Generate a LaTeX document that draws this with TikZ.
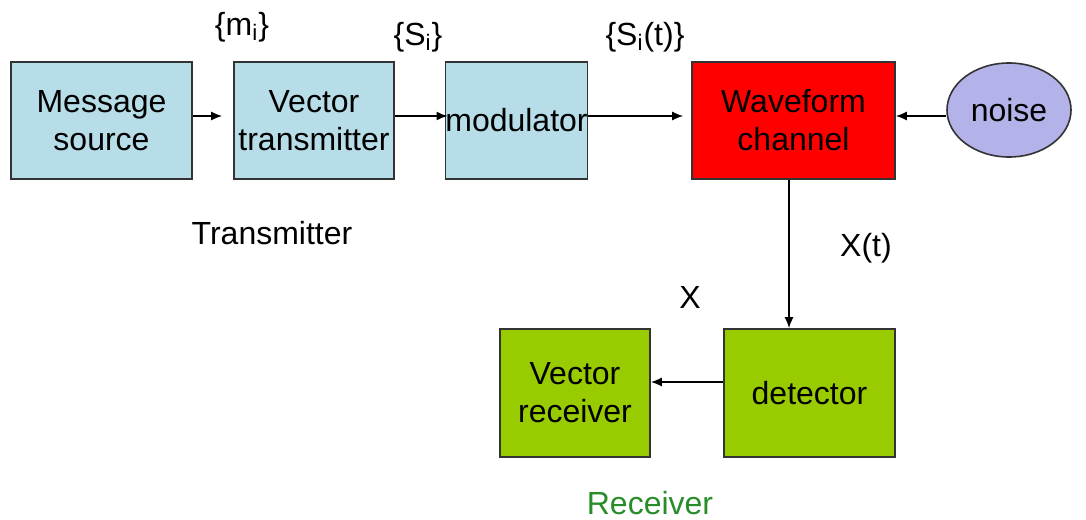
\documentclass[tikz,border=0pt]{standalone}
\usepackage{fontspec}
\setmainfont{Liberation Sans}
\usetikzlibrary{arrows.meta,shapes.geometric}
\definecolor{txblue}{HTML}{B7DEE8}
\definecolor{chred}{HTML}{FF0000}
\definecolor{rxgreen}{HTML}{99CC00}
\definecolor{noiseblue}{HTML}{B3B3EA}
\definecolor{rxlabel}{RGB}{40,140,40}
\begin{document}
\begin{tikzpicture}[
  x=0.5pt, y=-0.5pt,
  font=\fontsize{16}{19}\selectfont,
  block/.style={rectangle, draw=black!80, line width=0.8pt,
    inner sep=0pt, align=center},
  txblock/.style={block, fill=txblue},
  rxblock/.style={block, fill=rxgreen},
  link/.style={line width=0.8pt, -{Latex[length=5.5pt,width=4.5pt]}},
]
\useasboundingbox (0,0) rectangle (1086,519);

% Transmitter chain
\node[txblock, minimum width=90.5pt, minimum height=58.5pt] (msg) at (101.5,120.5) {Message\\source};
\node[txblock, minimum width=80pt, minimum height=58.5pt] (vtx) at (314,120.5) {Vector\\transmitter};
\node[txblock, minimum width=69.5pt, minimum height=58.5pt] (mod) at (516.5,120.5) {modulator};

% Channel and noise
\node[block, fill=chred, minimum width=101.5pt, minimum height=58.5pt] (wav) at (793.5,120.5) {Waveform\\channel};
\node[ellipse, draw=black!80, line width=0.8pt, fill=noiseblue,
  minimum width=62pt, minimum height=47pt, inner sep=0pt] (noi) at (1009,110) {noise};

% Receiver chain
\node[rxblock, minimum width=85.5pt, minimum height=64pt] (det) at (809.5,393) {detector};
\node[rxblock, minimum width=75pt, minimum height=64pt] (vrx) at (575,393) {Vector\\receiver};

% Signal labels
\node (lm) at (242,27) {\{m\textsubscript{i}\}};
\node (ls) at (418,37) {\{S\textsubscript{i}\}};
\node (lst) at (645,37) {\{S\textsubscript{i}(t)\}};
\node (lxt) at (866,248) {X(t)};
\node (lx) at (690,297) {X};
\node (ltx) at (272,233) {Transmitter};
\node[text=rxlabel] (lrx) at (650,503) {Receiver};

% Connectors
\draw[link] ([yshift=2.25pt]msg.east) -- ([xshift=-5.5pt,yshift=2.25pt]vtx.west);
\draw[link] ([yshift=2.25pt]vtx.east) -- ([xshift=1.5pt,yshift=2.25pt]mod.west);
\draw[link] ([yshift=2.25pt]mod.east) -- ([xshift=-4pt,yshift=2.25pt]wav.west);
\draw[link] ([yshift=-3pt]noi.west) -- ([yshift=2.25pt]wav.east);
\draw[link] ([xshift=-2.25pt]wav.south) -- ([xshift=-10.25pt]det.north);
\draw[link] ([yshift=5.5pt]det.west) -- ([yshift=5.5pt]vrx.east);
\end{tikzpicture}
\end{document}
